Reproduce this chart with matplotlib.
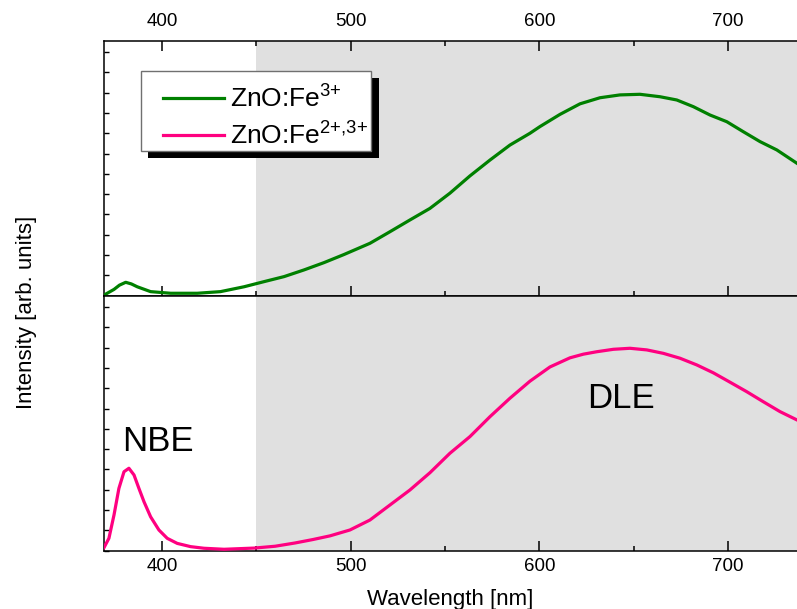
import matplotlib
matplotlib.use("Agg")
import matplotlib.pyplot as plt
from matplotlib.ticker import MultipleLocator
from matplotlib.lines import Line2D
from matplotlib.patches import Rectangle

plt.rcParams['font.family'] = ['Liberation Sans', 'DejaVu Sans']
plt.rcParams['mathtext.fontset'] = 'custom'
plt.rcParams['mathtext.rm'] = 'Liberation Sans'
plt.rcParams['mathtext.it'] = 'Liberation Sans:italic'
plt.rcParams['mathtext.bf'] = 'Liberation Sans:bold'

# ---- data ----
wl_fe3 = [369.3, 374.6, 377.5, 380.8, 383.8, 386.9, 394, 404.6, 418.7, 431, 443.5,
          454, 464.7, 475.3, 485.9, 496.5, 510.2, 520.8, 531.4, 542, 552.6, 563.2,
          573.8, 584.4, 595, 600.3, 610.9, 621.5, 632.1, 642.7, 653.3, 663.9, 672.8,
          681.6, 690.4, 699.3, 708, 716.9, 725.8, 736.5]
int_fe3 = [0.003, 0.031, 0.052, 0.066, 0.058, 0.044, 0.020, 0.012, 0.012, 0.020, 0.044,
           0.069, 0.094, 0.127, 0.163, 0.203, 0.258, 0.315, 0.373, 0.430, 0.505, 0.590,
           0.668, 0.742, 0.800, 0.833, 0.893, 0.945, 0.975, 0.989, 0.992, 0.980, 0.964,
           0.931, 0.890, 0.857, 0.808, 0.759, 0.718, 0.652]

wl_fe23 = [369.3, 371.9, 374.6, 377.2, 379.9, 382.5, 385.2, 387.8, 390.5, 394, 398.4,
           402.8, 408.1, 415.2, 422.3, 432.9, 449, 460, 470.5, 480, 489, 499.6, 510.2,
           520.8, 531.4, 542, 552.6, 563.2, 573.8, 584.4, 595, 605.6, 616.2, 623.3,
           630.4, 639.2, 648, 656.9, 665.7, 674.5, 683.4, 692.2, 701, 709.9, 718.6,
           727.5, 736.5]
int_fe23 = [0.015, 0.061, 0.176, 0.307, 0.389, 0.406, 0.373, 0.307, 0.241, 0.167, 0.102,
            0.061, 0.036, 0.020, 0.012, 0.007, 0.013, 0.022, 0.038, 0.055, 0.073, 0.102, 0.151,
            0.225, 0.299, 0.384, 0.480, 0.562, 0.660, 0.751, 0.835, 0.905, 0.950, 0.968,
            0.980, 0.992, 0.997, 0.989, 0.972, 0.948, 0.915, 0.876, 0.830, 0.783, 0.734,
            0.685, 0.644]

labels = ['ZnO:Fe$^{3{+}}$', 'ZnO:Fe$^{2{+}{,}3{+}}$']
colors = ['#008000', '#ff0080']
x_ticks = [400, 500, 600, 700]
x_range = (369.3, 736.5)
dle_band = (450, 740)

# ---- layout (pixel helpers) ----
W, H = 797, 609
fig = plt.figure(figsize=(W / 100, H / 100), dpi=100)


def frame(x0, y0, x1, y1):
    return [x0 / W, 1 - y1 / H, (x1 - x0) / W, (y1 - y0) / H]


ax_top = fig.add_axes(frame(104, 40.7, 797, 295.7))
ax_bot = fig.add_axes(frame(104, 295.7, 797, 550.7))

for ax in (ax_top, ax_bot):
    ax.axvspan(*dle_band, color='#e0e0e0', lw=0, zorder=0)
    ax.set_xlim(*x_range)
    ax.set_ylim(0, 1.256)
    ax.set_xticks(x_ticks)
    ax.xaxis.set_minor_locator(MultipleLocator(50))
    ax.yaxis.set_major_locator(MultipleLocator(0.1))
    ax.spines['right'].set_visible(False)
    for s in ('left', 'top', 'bottom'):
        ax.spines[s].set_linewidth(1.1)
    ax.tick_params(axis='x', which='major', direction='in', length=7, width=1.1,
                   labelsize=13.5, pad=5)
    ax.tick_params(axis='x', which='minor', direction='in', length=3.5, width=1.1)
    ax.tick_params(axis='y', which='major', direction='in', length=3.5, width=1.0,
                   left=True, right=False, labelleft=False)

ax_top.tick_params(axis='x', which='both', top=True, bottom=True,
                   labeltop=True, labelbottom=False)
ax_top.tick_params(axis='x', which='major', pad=8)
ax_bot.tick_params(axis='x', which='both', top=False, bottom=True,
                   labeltop=False, labelbottom=True)

ax_top.plot(wl_fe3, int_fe3, color=colors[0], lw=2.3, zorder=3,
            solid_joinstyle='round')
ax_bot.plot(wl_fe23, int_fe23, color=colors[1], lw=2.3, zorder=3,
            solid_joinstyle='round')

ax_bot.text(397.9, 0.54, 'NBE', fontsize=25, ha='center', va='center')
ax_bot.text(643, 0.75, 'DLE', fontsize=25, ha='center', va='center')

ax_bot.set_xlabel('Wavelength [nm]', fontsize=16, labelpad=10)
fig.text(27 / W, 1 - 312 / H, 'Intensity [arb. units]', rotation=90,
         ha='center', va='center', fontsize=16)

# legend: entries without frame, plus a boxed frame with a solid drop shadow
handles = [Line2D([], [], color=c, lw=2.3) for c in colors]
leg = ax_top.legend(handles, labels, loc='center left',
                    bbox_to_anchor=(163 / W, 1 - 117.2 / H),
                    bbox_transform=fig.transFigure, fontsize=19,
                    frameon=False, borderpad=0, borderaxespad=0,
                    handlelength=2.31, handletextpad=0.23, labelspacing=0.36)
leg.set_zorder(6)

bx0, by0, bx1, by1 = 140.7, 70.7, 371, 150.7
ax_top.add_artist(Rectangle(((bx0 + 7.5) / W, 1 - (by1 + 7.5) / H),
                            (bx1 - bx0) / W, (by1 - by0) / H,
                            transform=fig.transFigure, facecolor='black',
                            edgecolor='none', zorder=5.5, clip_on=False))
ax_top.add_artist(Rectangle((bx0 / W, 1 - by1 / H),
                            (bx1 - bx0) / W, (by1 - by0) / H,
                            transform=fig.transFigure, facecolor='white',
                            edgecolor='#707070', lw=1.0, zorder=5.6, clip_on=False))

fig.savefig('out.png', dpi=100)
